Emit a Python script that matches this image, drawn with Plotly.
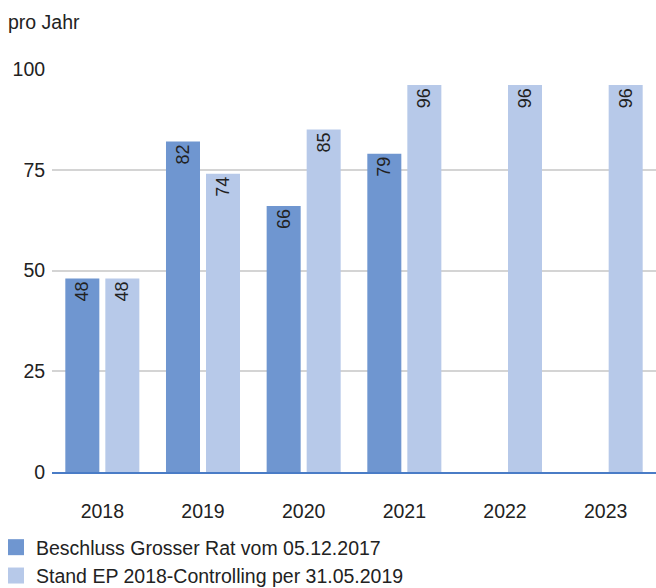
import plotly.graph_objects as go

years = ["2018", "2019", "2020", "2021", "2022", "2023"]
beschluss = [48, 82, 66, 79, None, None]
stand = [48, 74, 85, 96, 96, 96]
series_names = ["Beschluss Grosser Rat vom 05.12.2017",
                "Stand EP 2018-Controlling per 31.05.2019"]
y_ticks = [0, 25, 50, 75, 100]

FONT = "Liberation Sans, Arial, sans-serif"
FS = 19.5
dark = "#6f96d0"
light = "#b7c9e9"

fig = go.Figure()
for i, (name, vals, col) in enumerate([(series_names[0], beschluss, dark),
                                        (series_names[1], stand, light)]):
    fig.add_trace(go.Bar(
        x=years, y=vals, name=name, marker_color=col, marker_line_width=0,
        text=[None if v is None else str(v) for v in vals],
        textposition="inside", insidetextanchor="end", textangle=-90,
        textfont=dict(size=18, color="#222222", family=FONT),
        cliponaxis=False, showlegend=False, legendgroup=f"g{i}",
    ))
    fig.add_trace(go.Scatter(
        x=[None], y=[None], name=name, mode="markers",
        marker=dict(symbol="square", size=16, color=col),
        showlegend=True, legendgroup=f"g{i}",
    ))

fig.update_layout(
    width=656, height=588,
    margin=dict(l=52, r=0, t=69, b=116, autoexpand=False),
    paper_bgcolor="white", plot_bgcolor="white",
    barmode="group", bargap=0.205, bargroupgap=0.15,
    font=dict(family=FONT, size=FS, color="#222222"),
    showlegend=True,
    legend=dict(orientation="v", xref="paper", yref="paper",
                x=-56/604, y=-(595 - 472) / 403, xanchor="left", yanchor="bottom",
                font=dict(size=FS), traceorder="normal",
                itemsizing="trace", tracegroupgap=2),
    xaxis=dict(showgrid=False, showline=True, linecolor="#4a7cc6", linewidth=1.5,
               ticks="outside", ticklen=21, tickcolor="rgba(0,0,0,0)",
               tickfont=dict(size=FS)),
    yaxis=dict(range=[0, 100], tickvals=y_ticks, showgrid=True, gridcolor="#d4d4d4",
               gridwidth=1.5, zeroline=False, showline=False,
               ticks="outside", ticklen=2, tickcolor="rgba(0,0,0,0)",
               tickfont=dict(size=FS)),
    uniformtext=dict(minsize=8, mode="show"),
)
fig.add_annotation(text="pro Jahr", xref="paper", yref="paper",
                   x=-46/604, y=1 + (69 - 22) / 403,
                   xanchor="left", yanchor="middle", showarrow=False,
                   font=dict(size=FS))
fig.write_html("out.html")
